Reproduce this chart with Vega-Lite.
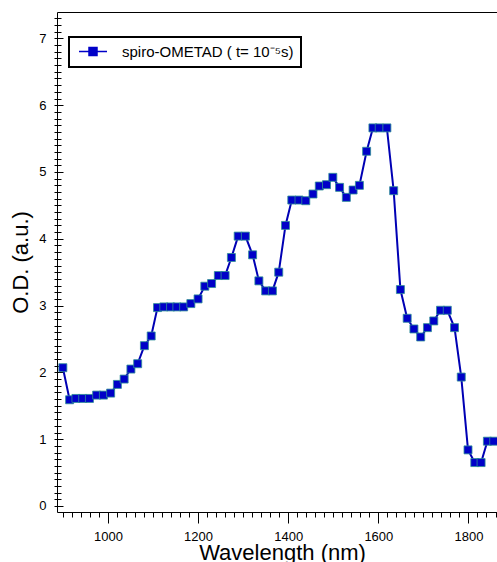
{
  "$schema": "https://vega.github.io/schema/vega-lite/v6.json",
  "width": 440,
  "height": 500,
  "autosize": {"type": "none"},
  "padding": {"left": 57, "top": 12, "right": 0, "bottom": 50},
  "background": "white",
  "data": {"values": [
    {"nm": 900, "od": 2.07}, {"nm": 915, "od": 1.59}, {"nm": 929, "od": 1.61}, {"nm": 944, "od": 1.61},
    {"nm": 959, "od": 1.61}, {"nm": 975, "od": 1.66}, {"nm": 990, "od": 1.66}, {"nm": 1006, "od": 1.69},
    {"nm": 1021, "od": 1.82}, {"nm": 1036, "od": 1.9}, {"nm": 1051, "od": 2.05}, {"nm": 1066, "od": 2.13},
    {"nm": 1081, "od": 2.4}, {"nm": 1096, "od": 2.545}, {"nm": 1110, "od": 2.97}, {"nm": 1124, "od": 2.98},
    {"nm": 1139, "od": 2.98}, {"nm": 1153, "od": 2.98}, {"nm": 1168, "od": 2.98}, {"nm": 1184, "od": 3.03},
    {"nm": 1200, "od": 3.1}, {"nm": 1215, "od": 3.29}, {"nm": 1230, "od": 3.33}, {"nm": 1245, "od": 3.45},
    {"nm": 1260, "od": 3.45}, {"nm": 1274, "od": 3.72}, {"nm": 1289, "od": 4.04}, {"nm": 1305, "od": 4.04},
    {"nm": 1321, "od": 3.76}, {"nm": 1335, "od": 3.37}, {"nm": 1350, "od": 3.22}, {"nm": 1365, "od": 3.22},
    {"nm": 1379, "od": 3.5}, {"nm": 1394, "od": 4.2}, {"nm": 1408, "od": 4.58}, {"nm": 1424, "od": 4.58},
    {"nm": 1439, "od": 4.57}, {"nm": 1455, "od": 4.67}, {"nm": 1469, "od": 4.79}, {"nm": 1485, "od": 4.81},
    {"nm": 1499, "od": 4.92}, {"nm": 1514, "od": 4.77}, {"nm": 1529, "od": 4.62}, {"nm": 1544, "od": 4.73},
    {"nm": 1558, "od": 4.8}, {"nm": 1574, "od": 5.31}, {"nm": 1588, "od": 5.66}, {"nm": 1602, "od": 5.66},
    {"nm": 1619, "od": 5.66}, {"nm": 1634, "od": 4.72}, {"nm": 1649, "od": 3.24}, {"nm": 1664, "od": 2.81},
    {"nm": 1679, "od": 2.65}, {"nm": 1694, "od": 2.53}, {"nm": 1709, "od": 2.67}, {"nm": 1723, "od": 2.77},
    {"nm": 1738, "od": 2.93}, {"nm": 1753, "od": 2.93}, {"nm": 1769, "od": 2.67}, {"nm": 1784, "od": 1.93},
    {"nm": 1799, "od": 0.84}, {"nm": 1814, "od": 0.65}, {"nm": 1828, "od": 0.65}, {"nm": 1842, "od": 0.97},
    {"nm": 1856, "od": 0.97}
  ]},
  "layer": [
    {
      "mark": {"type": "line", "color": "#0000b4", "strokeWidth": 2},
      "encoding": {
        "x": {
          "field": "nm", "type": "quantitative",
          "scale": {"domain": [887, 1863.3], "nice": false, "zero": false},
          "axis": {
            "orient": "bottom",
            "title": "Wavelength (nm)",
            "values": [900,920,940,960,980,1000,1020,1040,1060,1080,1100,1120,1140,1160,1180,1200,1220,1240,1260,1280,1300,1320,1340,1360,1380,1400,1420,1440,1460,1480,1500,1520,1540,1560,1580,1600,1620,1640,1660,1680,1700,1720,1740,1760,1780,1800,1820,1840,1860],
            "labelExpr": "datum.value % 200 === 0 ? datum.label : ''",
            "format": "d",
            "tickSize": {"condition": {"test": "datum.value % 200 === 0", "value": 11}, "value": 5},
            "labelPadding": 7,
            "labelOverlap": false,
            "labelFlush": false,
            "domain": true,
            "titleX": 225,
            "titleY": 47,
            "titleBaseline": "alphabetic",
            "titleAlign": "center"
          }
        },
        "y": {
          "field": "od", "type": "quantitative",
          "scale": {"domain": [-0.09, 7.395], "nice": false, "zero": false},
          "axis": {
            "orient": "left",
            "title": "O.D. (a.u.)",
            "values": [0,0.1,0.2,0.3,0.4,0.5,0.6,0.7,0.8,0.9,1,1.1,1.2,1.3,1.4,1.5,1.6,1.7,1.8,1.9,2,2.1,2.2,2.3,2.4,2.5,2.6,2.7,2.8,2.9,3,3.1,3.2,3.3,3.4,3.5,3.6,3.7,3.8,3.9,4,4.1,4.2,4.3,4.4,4.5,4.6,4.7,4.8,4.9,5,5.1,5.2,5.3,5.4,5.5,5.6,5.7,5.8,5.9,6,6.1,6.2,6.3,6.4,6.5,6.6,6.7,6.8,6.9,7,7.1,7.2,7.3],
            "labelExpr": "abs(datum.value - round(datum.value)) < 0.01 ? '' + round(datum.value) : ''",
            "tickSize": {"condition": {"test": "abs(datum.value - round(datum.value)) < 0.01", "value": -6}, "value": -4},
            "labelPadding": 17,
            "labelOverlap": false,
            "labelFlush": false,
            "domain": true,
            "titleX": -37,
            "titleY": 250,
            "titleAngle": 270,
            "titleBaseline": "middle",
            "titleAlign": "center"
          }
        }
      }
    },
    {
      "mark": {"type": "point", "shape": "square", "filled": true, "size": 64, "fill": "#0000c8", "stroke": "#2e8f96", "strokeWidth": 0.8, "opacity": 1},
      "encoding": {
        "x": {
          "field": "nm", "type": "quantitative",
          "axis": {"orient": "top", "title": null, "ticks": false, "labels": false, "domain": true}
        },
        "y": {
          "field": "od", "type": "quantitative",
          "axis": {
            "orient": "left", "title": null, "labels": false, "domain": false,
            "values": [0,0.1,0.2,0.3,0.4,0.5,0.6,0.7,0.8,0.9,1,1.1,1.2,1.3,1.4,1.5,1.6,1.7,1.8,1.9,2,2.1,2.2,2.3,2.4,2.5,2.6,2.7,2.8,2.9,3,3.1,3.2,3.3,3.4,3.5,3.6,3.7,3.8,3.9,4,4.1,4.2,4.3,4.4,4.5,4.6,4.7,4.8,4.9,5,5.1,5.2,5.3,5.4,5.5,5.6,5.7,5.8,5.9,6,6.1,6.2,6.3,6.4,6.5,6.6,6.7,6.8,6.9,7,7.1,7.2,7.3],
            "tickSize": 3
          }
        },
        "color": {
          "datum": "spiro-OMETAD ( t= 10⁻⁵s)",
          "type": "nominal",
          "scale": {"range": ["#0000c8"]},
          "legend": {
            "orient": "none",
            "legendX": 12,
            "legendY": 25,
            "title": null,
            "symbolType": "M-3.5,0H3.5M-1,-1H1V1H-1Z",
            "symbolSize": 64,
            "symbolFillColor": "#0000c8",
            "symbolStrokeColor": "#0000c8",
            "symbolStrokeWidth": 1.5,
            "symbolOffset": 9.5,
            "labelOffset": 21.5,
            "labelFontSize": 15,
            "labelFont": "Liberation Sans",
            "labelColor": "black",
            "labelLimit": 400,
            "padding": 7,
            "strokeColor": "black",
            "fillColor": "white"
          }
        }
      }
    }
  ],
  "resolve": {"axis": {"x": "independent", "y": "independent"}},
  "config": {
    "view": {"stroke": null},
    "font": "Liberation Sans",
    "legend": {"strokeWidth": 2},
    "axis": {
      "grid": false,
      "labelFont": "Liberation Sans",
      "labelFontSize": 13,
      "labelColor": "black",
      "titleFont": "Liberation Sans",
      "titleFontSize": 22,
      "titleFontWeight": "normal",
      "titleColor": "black",
      "domainColor": "black",
      "domainWidth": 1,
      "tickColor": "black",
      "tickWidth": 1
    }
  }
}
